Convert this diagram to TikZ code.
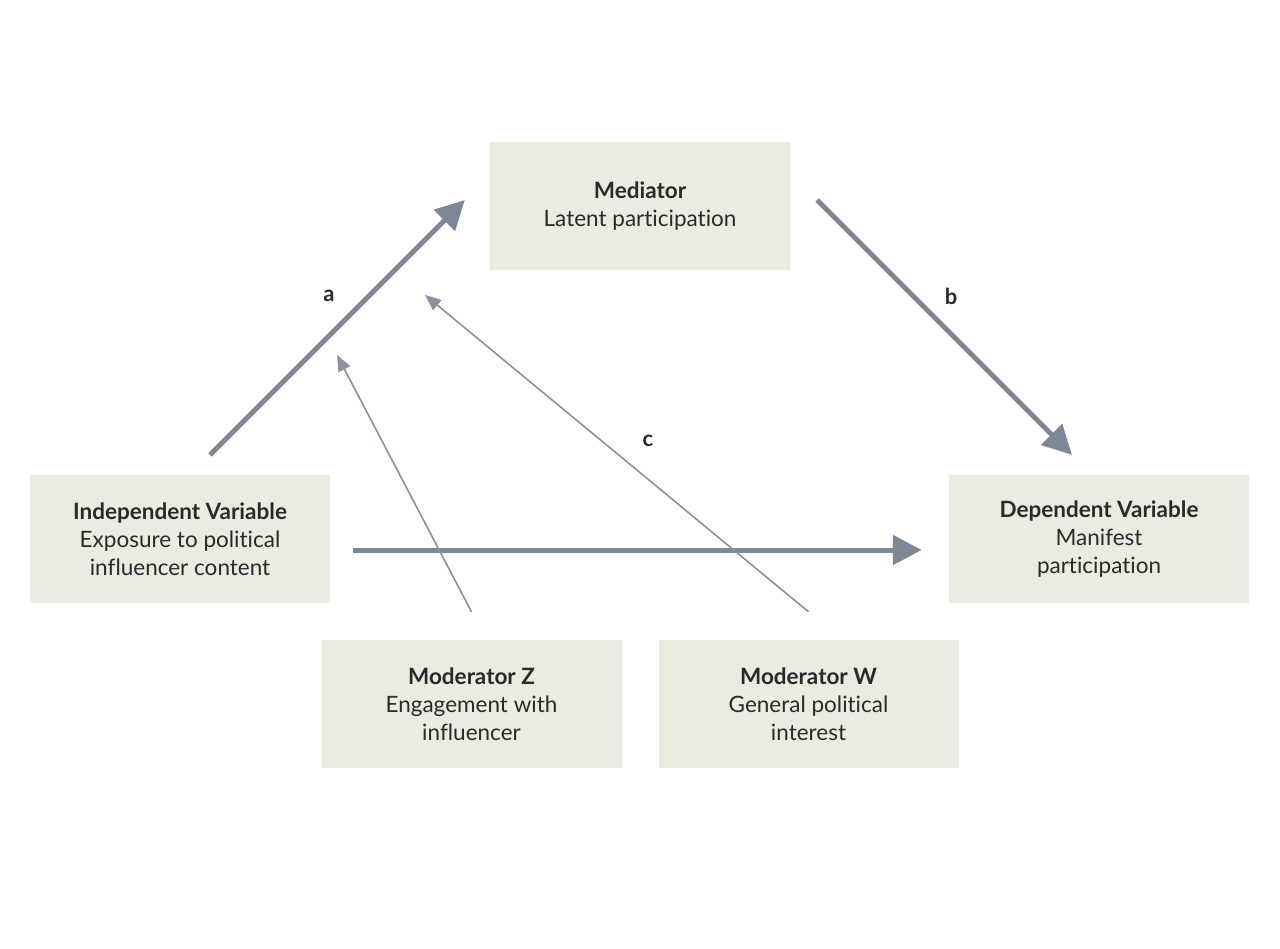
\documentclass[tikz,border=0pt]{standalone}
\usepackage{fontspec}
\setmainfont{Lato}[Ligatures=NoCommon]
\usepackage{xcolor}
\usepackage{tikz}
\usetikzlibrary{calc}
\usetikzlibrary{arrows.meta}

\definecolor{boxfill}{HTML}{EBEBE1}
\definecolor{arrowgray}{HTML}{7E8796}
\definecolor{thingray}{HTML}{8C919E}
\definecolor{txt}{HTML}{2A2A2A}

\tikzset{
  varbox/.style={fill=boxfill, minimum width=300pt, minimum height=128pt,
    align=center, text=txt, font=\fontsize{22.5}{28}\selectfont},
  bigarrow/.style={draw=arrowgray, line width=5pt,
    -{Triangle[length=29pt,width=29pt]}},
  thinarrow/.style={draw=thingray, line width=1.6pt,
    -{Triangle[length=16pt,width=13pt]}},
  pathlabel/.style={text=txt, font=\fontsize{22}{24}\selectfont\bfseries}
}

\begin{document}
\begin{tikzpicture}[x=1pt,y=-1pt]
  \useasboundingbox[fill=white] (0,0) rectangle (1280,949);

  \node[varbox] (med) at (640,206) {\textbf{Mediator}\\Latent participation};
  \node[varbox] (ind) at (180,539) {\textbf{Independent Variable}\\Exposure to political\\influencer content};
  \node[varbox] (dep) at (1099,539) {\textbf{Dependent Variable}\\Manifest\\participation};
  \node[varbox] (modz) at (471.5,704) {\textbf{Moderator Z}\\Engagement with\\influencer};
  \node[varbox] (modw) at (808.5,704) {\textbf{Moderator W}\\General political\\interest};

  % tips of the moderating arrows
  \coordinate (ztip) at (337,355);
  \coordinate (wtip) at (425,295);

  \draw[bigarrow] ($(ind.north)+(30,-20)$) -- ($(med.west)+(-25,-6)$);
  \draw[bigarrow] ($(med.east)+(27,-6)$) -- ($(dep.north)+(-27,-20)$);
  \draw[bigarrow] ($(ind.east)+(23,11)$) -- ($(dep.west)+(-27,11)$);

  \draw[thinarrow] ($(modz.north)+(0,-28)$) -- (ztip);
  \draw[thinarrow] ($(modw.north)+(0,-28)$) -- (wtip);

  \node[pathlabel] (la) at (329,296) {a};
  \node[pathlabel] (lb) at (951,296) {b};
  \node[pathlabel] (lc) at (648,441) {c};

\end{tikzpicture}
\end{document}
